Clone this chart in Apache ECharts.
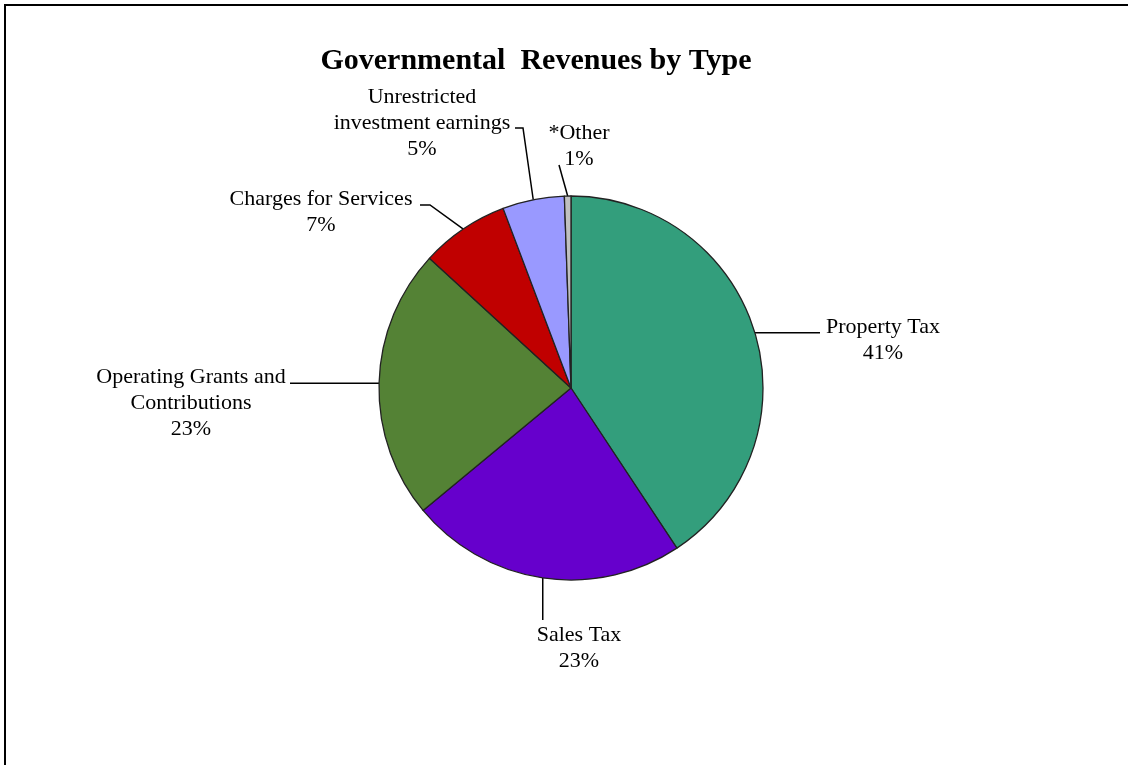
<!DOCTYPE html>
<html>
<head>
<meta charset="utf-8">
<script src="https://cdn.jsdelivr.net/npm/echarts@6/dist/echarts.min.js"></script>
<style>
  html, body { margin: 0; padding: 0; background: #fff; }
  #chart { width: 1128px; height: 765px; }
</style>
</head>
<body>
<div id="chart"></div>
<script>
// ---- Data ----
const categories = [
  'Property Tax',
  'Sales Tax',
  'Operating Grants and\nContributions',
  'Charges for Services',
  'Unrestricted\ninvestment earnings',
  '*Other'
];
const revenueShare = [40.7, 23.3, 22.8, 7.45, 5.2, 0.55];
const sliceColors = ['#339E7C', '#6600CC', '#548235', '#C00000', '#9999FF', '#C0C0C0'];

// ---- Layout (label anchors and leader-line bends, pixels) ----
const labelSpots = [
  { x: 883, y: 340, bend: 'hx', end: [820, null] },
  { x: 579, y: 648, bend: 'vy', end: [null, 620] },
  { x: 191, y: 403, bend: 'hx', end: [290, null] },
  { x: 321, y: 212, elbow: [430, 205], end: [420, 205] },
  { x: 422, y: 123, elbow: [523, 128], end: [515, 128] },
  { x: 579, y: 146, elbow: null, end: [559, 165] }
];
const pieCenter = [571, 388];
const pieRadius = 192;

function edgePoint(i) {
  const total = revenueShare.reduce((a, b) => a + b, 0);
  let before = 0;
  for (let k = 0; k < i; k++) before += revenueShare[k];
  const mid = (before + revenueShare[i] / 2) / total * 2 * Math.PI;
  return [pieCenter[0] + pieRadius * Math.sin(mid), pieCenter[1] - pieRadius * Math.cos(mid)];
}

const chart = echarts.init(document.getElementById('chart'), null, { renderer: 'canvas' });

const option = {
  animation: false,
  backgroundColor: '#ffffff',
  title: {
    text: 'Governmental  Revenues by Type',
    left: 536,
    textAlign: 'center',
    top: 40,
    textStyle: {
      fontFamily: 'Liberation Serif',
      fontWeight: 'bold',
      fontSize: 30,
      lineHeight: 32,
      color: '#000'
    }
  },
  graphic: [{
    type: 'rect',
    silent: true,
    shape: { x: 5, y: 5, width: 1300, height: 900 },
    style: { fill: 'none', stroke: '#000', lineWidth: 2 }
  }],
  series: [{
    type: 'pie',
    center: pieCenter,
    radius: pieRadius,
    startAngle: 90,
    clockwise: true,
    avoidLabelOverlap: false,
    data: categories.map((c, i) => ({
      name: c,
      value: revenueShare[i],
      itemStyle: { color: sliceColors[i] }
    })),
    itemStyle: { borderColor: '#222', borderWidth: 1.3 },
    emphasis: { disabled: true },
    label: {
      show: true,
      position: 'outside',
      fontFamily: 'Liberation Serif',
      fontSize: 22,
      lineHeight: 26,
      color: '#000',
      align: 'center',
      formatter: p => p.name + '\n' + Math.round(p.percent) + '%'
    },
    labelLine: {
      show: true,
      length: 10,
      length2: 10,
      lineStyle: { color: '#000', width: 1.5 }
    },
    labelLayout: function (p) {
      const i = p.dataIndex;
      const s = labelSpots[i];
      const p0 = (p.labelLinePoints && p.labelLinePoints[0]) ? p.labelLinePoints[0].slice() : edgePoint(i);
      let pts;
      if (s.bend === 'hx') {
        const end = [s.end[0], p0[1]];
        pts = [p0, [(p0[0] + end[0]) / 2, p0[1]], end];
      } else if (s.bend === 'vy') {
        const end = [p0[0], s.end[1]];
        pts = [p0, [p0[0], (p0[1] + end[1]) / 2], end];
      } else if (s.elbow) {
        pts = [p0, s.elbow, s.end];
      } else {
        pts = [p0, [(p0[0] + s.end[0]) / 2, (p0[1] + s.end[1]) / 2], s.end];
      }
      return {
        x: s.x,
        y: s.y,
        align: 'center',
        verticalAlign: 'middle',
        labelLinePoints: pts
      };
    }
  }]
};

// Title: shift so its centre sits over the reference position
option.title.left = 531;

chart.setOption(option);
</script>
</body>
</html>
